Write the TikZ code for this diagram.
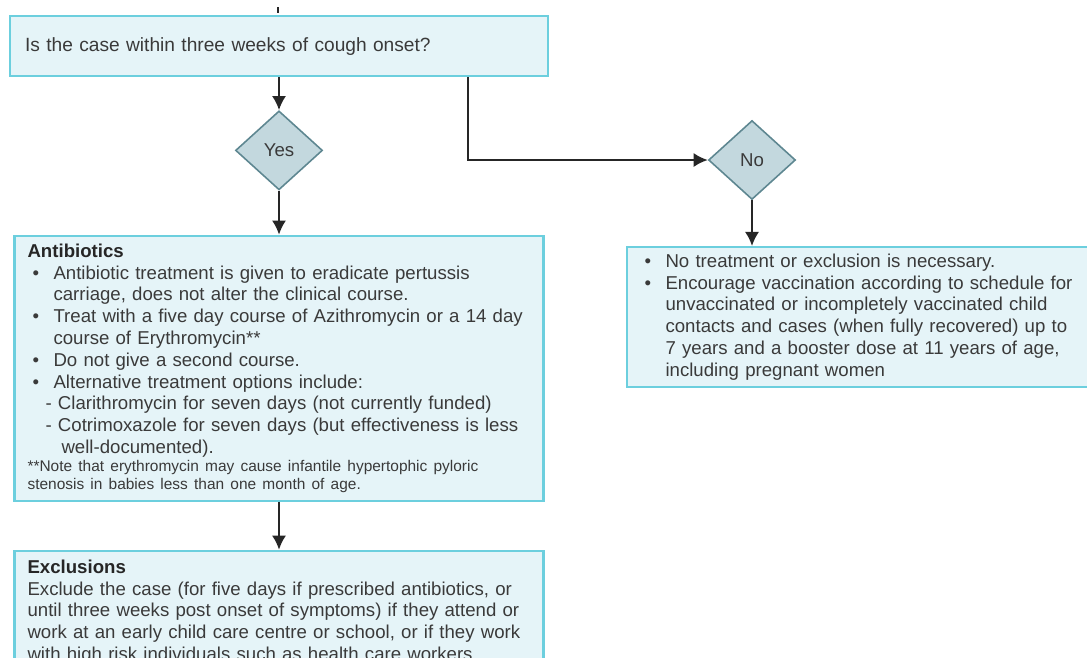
\documentclass[tikz,border=0pt]{standalone}
\usepackage{fontspec}
\setmainfont{Liberation Sans}
\usetikzlibrary{shapes.geometric,arrows.meta,positioning}

\definecolor{boxfill}{HTML}{E5F4F8}
\definecolor{boxline}{HTML}{6CCFDE}
\definecolor{diafill}{HTML}{C3D8DE}
\definecolor{dialine}{HTML}{5E8791}
\definecolor{txt}{HTML}{3A3A3A}

\newcommand{\bul}{\makebox[0.52cm][l]{\hspace{0.1cm}\textbullet}}
\newcommand{\cont}{\hspace*{0.52cm}}

\begin{document}
\begin{tikzpicture}[
    x=0.02cm, y=-0.02cm,
    font=\fontsize{10.6}{12.4}\selectfont,
    box/.style={rectangle, draw=boxline, fill=boxfill, line width=1.2pt, text=txt, align=left},
    decision/.style={diamond, draw=dialine, fill=diafill, line width=0.9pt, minimum width=1.74cm, minimum height=1.58cm, inner sep=0pt, text=txt},
    arrow/.style={-{Latex[length=8pt,width=8pt]}, line width=1.1pt, black!85}
]
    \useasboundingbox (0,0) rectangle (1087,657);
    \clip (0,0) rectangle (1087,657);

    % Nodes
    \node[box, anchor=north west, minimum width=10.76cm, minimum height=1.2cm, inner xsep=0.3cm, text width=10.16cm, font=\fontsize{10.9}{12.4}\selectfont] (question) at (9,15)
        {Is the case within three weeks of cough onset?};
    \node[decision, below=0.66cm of question] (yes) {Yes};
    \node[box, below=0.88cm of yes, minimum width=10.58cm, minimum height=5.3cm, inner xsep=0.26cm, text width=10.06cm] (antibiotics)
        {{\color{black!85}\textbf{Antibiotics}}\\
         \bul Antibiotic treatment is given to eradicate pertussis\\
         \cont carriage, does not alter the clinical course.\\
         \bul Treat with a five day course of Azithromycin or a 14 day\\
         \cont course of Erythromycin**\\
         \bul Do not give a second course.\\
         \bul Alternative treatment options include:\\
         \hspace*{0.36cm}- Clarithromycin for seven days (not currently funded)\\
         \hspace*{0.36cm}- Cotrimoxazole for seven days (but effectiveness is less\\
         \hspace*{0.68cm}well-documented).\par
         {\fontsize{8.8}{10.2}\selectfont **Note that erythromycin may cause infantile hypertophic pyloric\\
         stenosis in babies less than one month of age.\par}};
    \node[box, below=0.96cm of antibiotics, minimum width=10.58cm, inner xsep=0.26cm, inner ysep=0.18cm, text width=10.06cm] (exclusions)
        {{\color{black!85}\textbf{Exclusions}}\\
         Exclude the case (for five days if prescribed antibiotics, or\\
         until three weeks post onset of symptoms) if they attend or\\
         work at an early child care centre or school, or if they work\\
         with high risk individuals such as health care workers.};
    \node[decision] (no) at (752,160) {No};
    \node[box, anchor=north west, minimum width=10cm, minimum height=2.8cm, inner xsep=0.24cm, text width=9.5cm] (noaction) at (626,246)
        {\bul No treatment or exclusion is necessary.\\
         \bul Encourage vaccination according to schedule for\\
         \cont unvaccinated or incompletely vaccinated child\\
         \cont contacts and cases (when fully recovered) up to\\
         \cont 7 years and a booster dose at 11 years of age,\\
         \cont including pregnant women};
    \coordinate (incoming) at (278,7);

    % Arrows
    \draw[line width=1.1pt, black!85] (incoming) -- ++(0,6);
    \draw[arrow] (question) -- (yes);
    \draw[arrow] (yes) -- (antibiotics);
    \draw[arrow] (antibiotics) -- (exclusions);
    \draw[arrow] ([xshift=3.78cm]question.south) |- (no);
    \draw[arrow] (no.south) -- (no.south |- noaction.north);
\end{tikzpicture}
\end{document}
